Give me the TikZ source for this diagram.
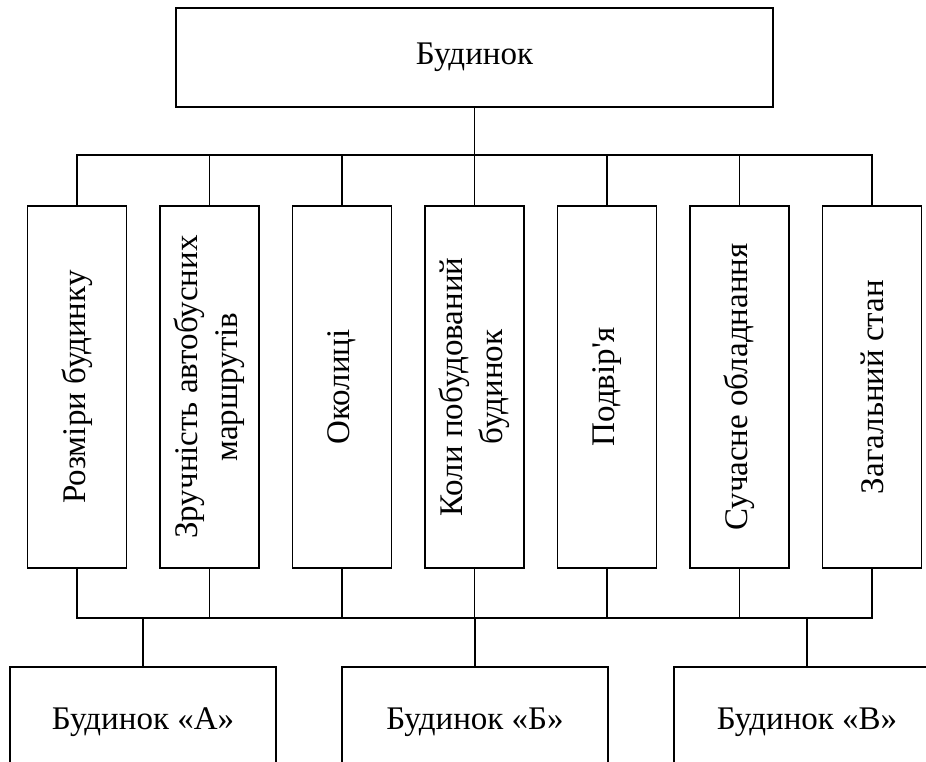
\documentclass[tikz,border=0pt]{standalone}
\usepackage{fontspec}
\newfontfamily\diagfont{Liberation Serif}
\begin{document}
\begin{tikzpicture}[x=1pt,y=-1pt,
  every node/.style={font=\diagfont\fontsize{33}{40}\selectfont},
  topbox/.style={draw, line width=1.2pt, minimum width=597pt, minimum height=99pt, inner sep=0pt},
  critbox/.style={draw, line width=1.2pt, minimum width=99pt, minimum height=362pt, inner sep=0pt},
  critlabel/.style={rotate=90, align=center, inner sep=0pt},
  altbox/.style={draw, line width=1.2pt, minimum width=266pt, minimum height=110pt, inner sep=0pt},
  conn/.style={line width=1.2pt}]
\useasboundingbox (0,0) rectangle (926,762);
\clip (0,0) rectangle (926,762);
\fill[white] (0,0) rectangle (926,762);

\node[topbox] (top) at (474.5,57.5) {Будинок};

\node[critbox] (b1) at (77,387) {};
\node[critbox] (b2) at (209.5,387) {};
\node[critbox] (b3) at (342,387) {};
\node[critbox] (b4) at (474.5,387) {};
\node[critbox] (b5) at (607,387) {};
\node[critbox] (b6) at (739.5,387) {};
\node[critbox] (b7) at (872,387) {};

\node[critlabel] (t1) at (b1.center) {Розміри будинку};
\node[critlabel] (t2) at (b2.center) {Зручність автобусних\\маршрутів};
\node[critlabel] (t3) at (b3.center) {Околиці};
\node[critlabel] (t4) at (b4.center) {Коли побудований\\будинок};
\node[critlabel] (t5) at (b5.center) {Подвір'я};
\node[critlabel] (t6) at (b6.center) {Сучасне обладнання};
\node[critlabel] (t7) at (b7.center) {Загальний стан};

\node[altbox] (aA) at (143,722) {Будинок «А»};
\node[altbox] (aB) at (475,722) {Будинок «Б»};
\node[altbox] (aC) at (807,722) {Будинок «В»};

\coordinate (busT) at (474.5,155);
\coordinate (busB) at (474.5,618);

\draw[conn] (top.south) -- (top.south |- busT);
\draw[conn] (b1.north) -- (b1.north |- busT) -- (b7.north |- busT) -- (b7.north);
\foreach \b in {b2,b3,b4,b5,b6}
  \draw[conn] (\b.north) -- (\b.north |- busT);

\draw[conn] (b1.south) -- (b1.south |- busB) -- (b7.south |- busB) -- (b7.south);
\foreach \b in {b2,b3,b4,b5,b6}
  \draw[conn] (\b.south) -- (\b.south |- busB);

\draw[conn] (aA.north |- busB) -- (aA.north);
\draw[conn] (aB.north |- busB) -- (aB.north);
\draw[conn] (aC.north |- busB) -- (aC.north);
\end{tikzpicture}
\end{document}
